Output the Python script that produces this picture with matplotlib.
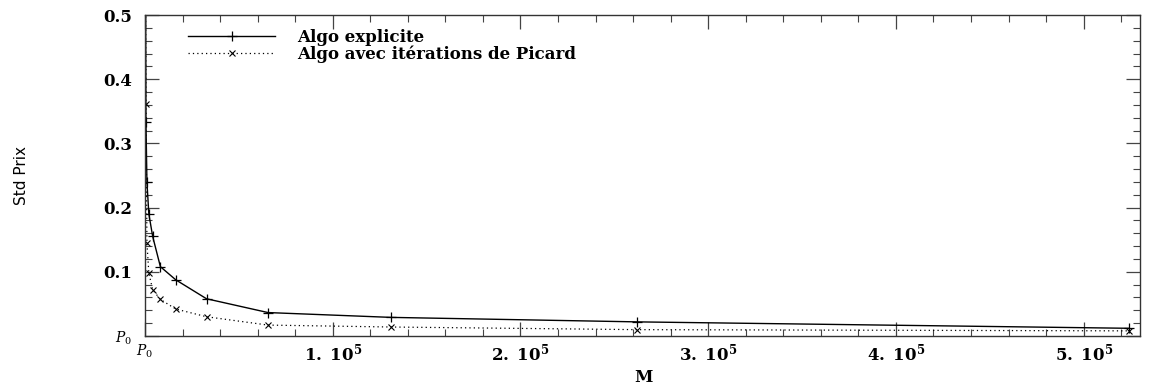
import matplotlib
matplotlib.use("Agg")
import matplotlib.pyplot as plt
from matplotlib.ticker import MultipleLocator, FixedLocator

# Data
M_explicit = [256, 512, 1024, 2048, 4096, 8192, 16384, 32768, 65536, 131072, 262144, 524288]
std_explicit = [0.60, 0.334, 0.24, 0.19, 0.155, 0.108, 0.0875, 0.058, 0.0365, 0.029, 0.022, 0.012]

M_picard = [256, 512, 1024, 2048, 4096, 8192, 16384, 32768, 65536, 131072, 262144, 524288]
std_picard = [0.55, 0.362, 0.145, 0.098, 0.072, 0.057, 0.042, 0.030, 0.017, 0.014, 0.0099, 0.008]

x_ticks = [0, 100000, 200000, 300000, 400000, 500000]
x_ticklabels = [r'$P_0$', r'$\mathbf{1.\ 10^{5}}$', r'$\mathbf{2.\ 10^{5}}$',
                r'$\mathbf{3.\ 10^{5}}$', r'$\mathbf{4.\ 10^{5}}$', r'$\mathbf{5.\ 10^{5}}$']
y_ticks = [0, 0.1, 0.2, 0.3, 0.4, 0.5]
y_ticklabels = [r'$P_0$', '0.1', '0.2', '0.3', '0.4', '0.5']

plt.rcParams['mathtext.fontset'] = 'dejavuserif'
serif = 'DejaVu Serif'

fig = plt.figure(figsize=(11.56, 3.9), dpi=100)
ax = fig.add_axes([145/1156, 1-336/390, (1140-145)/1156, (336-15)/390])

ax.plot(M_explicit, std_explicit, color='black', lw=1.0, ls='-', marker='+',
        ms=7, mew=0.9, label='Algo explicite')
ax.plot(M_picard, std_picard, color='black', lw=0.9, ls=(0, (1, 2.5)), marker='x',
        ms=5, mew=0.8, label='Algo avec itérations de Picard')

ax.set_xlim(0, 530000)
ax.set_ylim(0, 0.5)

ax.xaxis.set_major_locator(FixedLocator(x_ticks))
ax.xaxis.set_minor_locator(MultipleLocator(20000))
ax.yaxis.set_major_locator(FixedLocator(y_ticks))
ax.yaxis.set_minor_locator(MultipleLocator(0.02))
ax.set_xticklabels(x_ticklabels, fontsize=12, fontfamily=serif, fontweight='bold')
ax.set_yticklabels(y_ticklabels, fontsize=12, fontfamily=serif, fontweight='bold')
ax.get_xticklabels()[0].set_fontsize(10)
ax.get_yticklabels()[0].set_fontsize(10)

ax.tick_params(which='both', direction='in', top=True, right=True, color='#444444')
ax.tick_params(which='major', length=10, width=0.9)
ax.tick_params(which='minor', length=5, width=0.8)
ax.tick_params(axis='x', pad=5)
ax.tick_params(axis='y', pad=9)
for s in ax.spines.values():
    s.set_linewidth(1.0)
    s.set_color('#333333')

fig.text(643/1156, 1-378/390, 'M', fontsize=12, fontfamily=serif, fontweight='bold',
         ha='center', va='center')
fig.text(21/1156, 1-176/390, 'Std Prix', fontsize=11, fontfamily='DejaVu Sans',
         rotation=90, ha='center', va='center')

leg = ax.legend(loc='upper left', bbox_to_anchor=(0.037, 0.978), frameon=False,
                prop={'family': serif, 'weight': 'bold', 'size': 12},
                handlelength=5.2, handletextpad=1.3, labelspacing=0.0, borderaxespad=0)

fig.savefig('out.png', dpi=100)
